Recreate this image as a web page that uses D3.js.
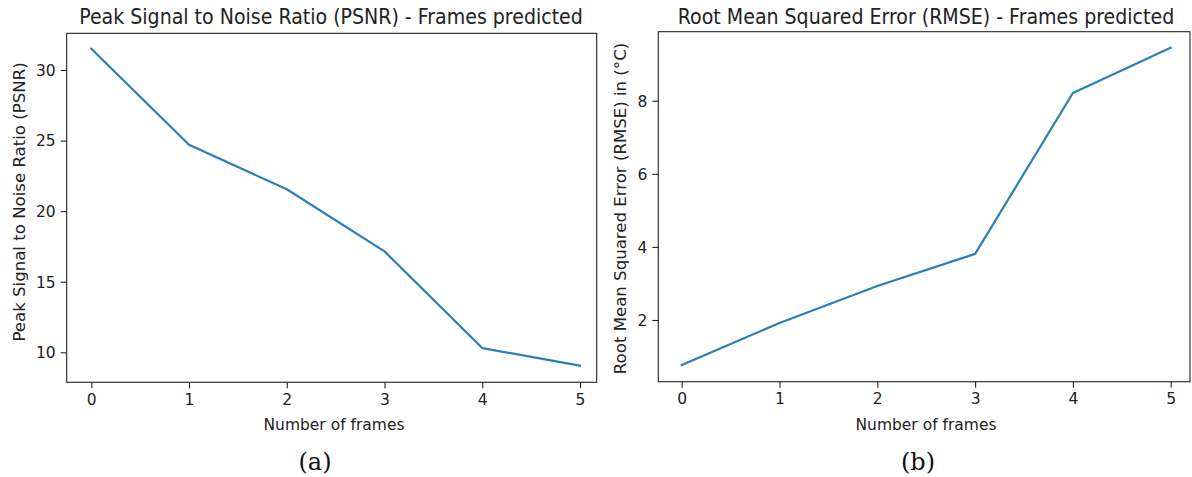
<!DOCTYPE html>
<html>
<head>
<meta charset="utf-8">
<script src="https://cdn.jsdelivr.net/npm/d3@7"></script>
<style>
  body { margin: 0; background: #fff; }
  svg { display: block; }
  .tick text { font-family: "DejaVu Sans", sans-serif; fill: #222; }
</style>
</head>
<body>
<div id="chart"></div>
<script>
// data
let frames = [0, 1, 2, 3, 4, 5];
let psnr = [31.5, 24.7, 21.55, 17.15, 10.3, 9.05];
let rmse = [0.77, 1.92, 2.93, 3.81, 8.21, 9.45];
let psnrTicks = [10, 15, 20, 25, 30];
let rmseTicks = [2, 4, 6, 8];

let w = 1192, h = 477;
let sy = 1.07;          // picture is a little stretched vertically
let fs = 15.5;          // axis text size
let blue = "#2a7fba";

const svg = d3.select("#chart")
    .append("svg")
    .attr("width", w)
    .attr("height", h);

function stretchTicks(g) {
    g.selectAll(".tick text").each(function () {
        let t = d3.select(this);
        let x = +t.attr("x") || 0, y = +t.attr("y") || 0;
        t.attr("x", 0).attr("y", 0)
         .attr("transform", "translate(" + x + "," + y + ") scale(1," + sy + ")")
         .style("font-size", fs + "px");
    });
}

function panel(opt) {
    let xScale = d3.scaleLinear().domain([0, 5]).range([opt.x0, opt.x5]);
    let yScale = d3.scaleLinear().domain([opt.ya, opt.yb]).range([opt.pa, opt.pb]);

    const xAxis = d3.axisBottom(xScale).tickValues(frames).tickFormat(d3.format("d"))
        .tickSize(6).tickPadding(5);
    const yAxis = d3.axisLeft(yScale).tickValues(opt.ticks).tickFormat(d3.format("d"))
        .tickSize(6).tickPadding(5);

    let gx = svg.append("g")
        .attr("transform", "translate(0," + opt.bottom + ")")
        .call(xAxis);
    gx.select(".domain").remove();
    gx.selectAll(".tick line").attr("stroke", "#222").attr("stroke-width", 1.1);
    stretchTicks(gx);

    let gy = svg.append("g")
        .attr("transform", "translate(" + opt.left + ",0)")
        .call(yAxis);
    gy.select(".domain").remove();
    gy.selectAll(".tick line").attr("stroke", "#222").attr("stroke-width", 1.1);
    stretchTicks(gy);

    let line = d3.line()
        .x((d, i) => xScale(frames[i]))
        .y(d => yScale(d));

    svg.append("path")
        .datum(opt.values)
        .attr("d", line)
        .attr("fill", "none")
        .attr("stroke", blue)
        .attr("stroke-width", 2.2)
        .attr("stroke-linejoin", "round")
        .attr("stroke-linecap", "square");

    // frame
    svg.append("rect")
        .attr("x", opt.left)
        .attr("y", opt.top)
        .attr("width", opt.right - opt.left)
        .attr("height", opt.bottom - opt.top)
        .attr("fill", "none")
        .attr("stroke", "#222")
        .attr("stroke-width", 1.1);

    // title
    svg.append("text")
        .attr("transform", "translate(" + opt.titleX + ",24) scale(1," + sy + ")")
        .attr("text-anchor", "middle")
        .style("font-family", "DejaVu Sans")
        .style("font-size", "19px")
        .style("fill", "#222")
        .text(opt.title);

    // x label
    svg.append("text")
        .attr("transform", "translate(" + opt.xlabX + ",430) scale(1," + sy + ")")
        .attr("text-anchor", "middle")
        .style("font-family", "DejaVu Sans")
        .style("font-size", fs + "px")
        .style("fill", "#222")
        .text("Number of frames");

    // y label
    svg.append("text")
        .attr("transform", "translate(" + opt.ylabX + "," + opt.ylabY + ") rotate(-90) scale(" + sy + ",1)")
        .attr("text-anchor", "middle")
        .style("font-family", "DejaVu Sans")
        .style("font-size", fs + "px")
        .style("fill", "#222")
        .text(opt.ylabel);

    // caption
    svg.append("text")
        .attr("x", opt.capX)
        .attr("y", 470)
        .attr("text-anchor", "middle")
        .style("font-family", "'DejaVu Serif', serif")
        .style("font-size", "24px")
        .style("font-weight", "300")
        .style("fill", "#111")
        .text(opt.caption);
}

panel({
    values: psnr, ticks: psnrTicks,
    x0: 91.3, x5: 580, left: 66.7, right: 596.7, top: 33.3, bottom: 382.3,
    ya: 10, yb: 30, pa: 352.3, pb: 70,
    title: "Peak Signal to Noise Ratio (PSNR) - Frames predicted", titleX: 331,
    xlabX: 334, ylabX: 25, ylabY: 202,
    ylabel: "Peak Signal to Noise Ratio (PSNR)",
    caption: "(a)", capX: 315
});

panel({
    values: rmse, ticks: rmseTicks,
    x0: 681.7, x5: 1170.7, left: 658.3, right: 1190, top: 31.7, bottom: 381.7,
    ya: 2, yb: 8, pa: 320, pb: 100.7,
    title: "Root Mean Squared Error (RMSE) - Frames predicted", titleX: 926,
    xlabX: 926, ylabX: 626, ylabY: 208.5,
    ylabel: "Root Mean Squared Error (RMSE) in (°C)",
    caption: "(b)", capX: 918
});
</script>
</body>
</html>
